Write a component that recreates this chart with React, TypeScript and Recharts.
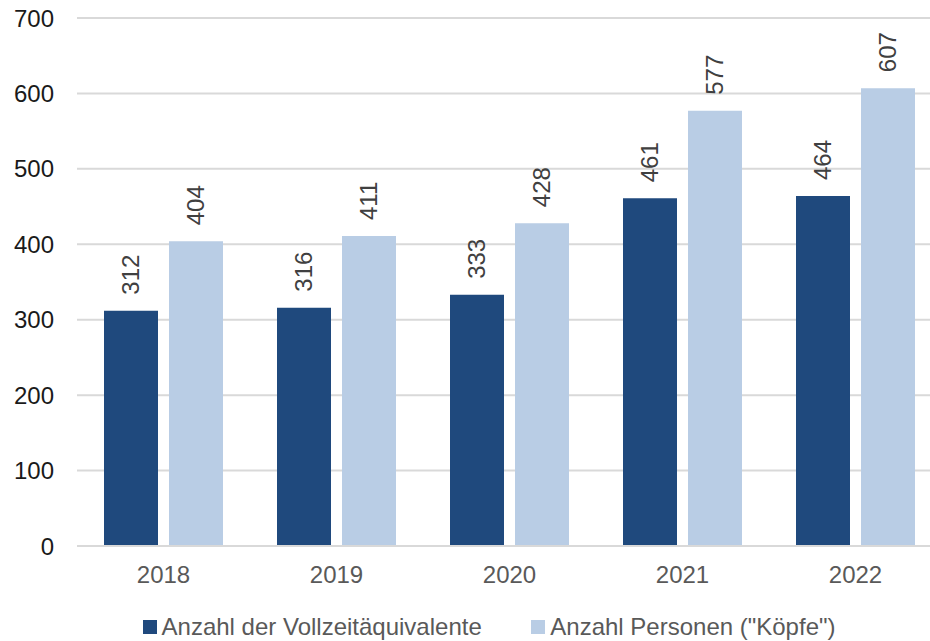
import React from 'react';
import { BarChart, Bar, XAxis, YAxis, CartesianGrid, Legend, LabelList } from 'recharts';

const years = ['2018', '2019', '2020', '2021', '2022'];
const vollzeit = [312, 316, 333, 461, 464];
const personen = [404, 411, 428, 577, 607];
const yTicks = [0, 100, 200, 300, 400, 500, 600, 700];
const seriesNames = ['Anzahl der Vollzeitäquivalente', 'Anzahl Personen ("Köpfe")'];
const colors = ['#1F497D', '#B9CDE5'];

const data = years.map((y, i) => ({ year: y, v: vollzeit[i], p: personen[i] }));

const FONT = '"Liberation Sans", Arial, sans-serif';
const FS = 24;

const RotLabel = (props: any) => {
  const { x, y, width, value } = props;
  const cx = x + width / 2;
  const ty = y - 16;
  return (
    <text
      x={cx}
      y={ty}
      transform={`rotate(-90 ${cx} ${ty})`}
      textAnchor="start"
      dominantBaseline="central"
      fill="#404040"
      fontSize={FS}
      fontFamily={FONT}
    >
      {value}
    </text>
  );
};

const LegendContent = () => (
  <div style={{ height: 40, paddingTop: 12, boxSizing: 'border-box', display: 'flex', fontFamily: FONT, fontSize: FS, color: '#595959', lineHeight: '24px' }}>
    <div style={{ width: 143 }} />
    {seriesNames.map((n, i) => (
      <div key={n} style={{ display: 'flex', alignItems: 'center', width: i === 0 ? 390 : 400 }}>
        <div style={{ width: 14, height: 14, background: colors[i], marginRight: 5 }} />
        <span>{n}</span>
      </div>
    ))}
  </div>
);

export default function App() {
  return (
    <div style={{ position: 'absolute', left: 0, top: 0, width: 930, height: 641, overflow: 'hidden', background: '#fff' }}>
      <BarChart
        width={945}
        height={641}
        data={data}
        margin={{ top: 18, right: 3, left: 0, bottom: 0 }}
        barSize={54}
        barGap={11}
      >
        <CartesianGrid vertical={false} stroke="#D9D9D9" strokeWidth={2} />
        <XAxis
          dataKey="year"
          axisLine={{ stroke: '#D9D9D9', strokeWidth: 2 }}
          tickLine={false}
          tickMargin={14}
          height={55}
          tick={{ fill: '#595959', fontSize: FS, fontFamily: FONT }}
        />
        <YAxis
          domain={[0, 700]}
          ticks={yTicks}
          axisLine={false}
          tickLine={false}
          tickMargin={17}
          width={77}
          tick={{ fill: '#1a1a1a', fontSize: FS, fontFamily: FONT }}
        />
        <Legend
          verticalAlign="bottom"
          wrapperStyle={{ left: 0, width: 930, height: 40 }}
          content={<LegendContent />}
        />
        <Bar dataKey="v" name={seriesNames[0]} fill={colors[0]} isAnimationActive={false}>
          <LabelList dataKey="v" content={<RotLabel />} />
        </Bar>
        <Bar dataKey="p" name={seriesNames[1]} fill={colors[1]} isAnimationActive={false}>
          <LabelList dataKey="p" content={<RotLabel />} />
        </Bar>
      </BarChart>
    </div>
  );
}
